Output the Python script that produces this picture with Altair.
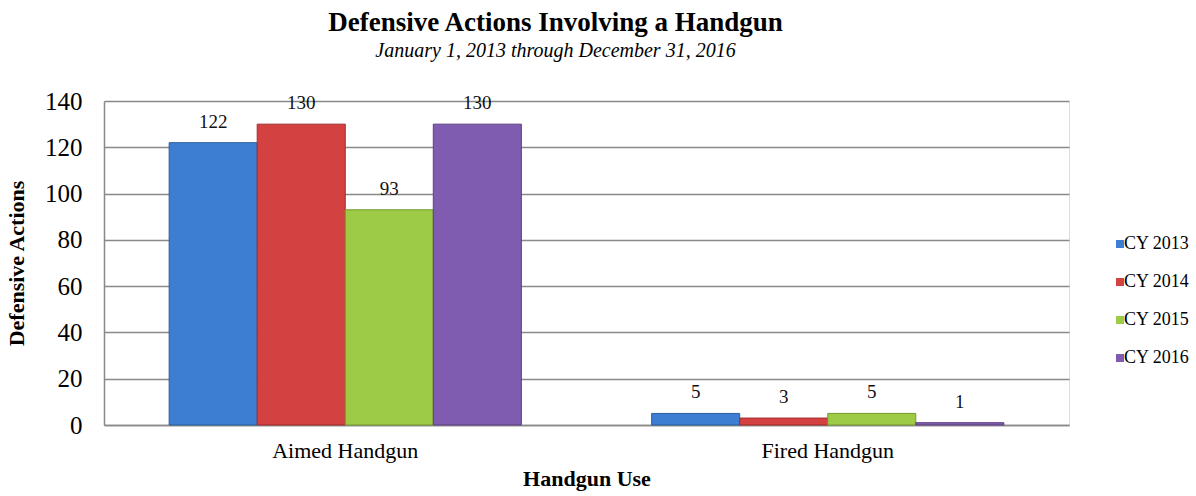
import altair as alt
import pandas as pd

categories = ["Aimed Handgun", "Fired Handgun"]
series = ["CY 2013", "CY 2014", "CY 2015", "CY 2016"]
cy2013 = [122, 5]
cy2014 = [130, 3]
cy2015 = [93, 5]
cy2016 = [130, 1]
y_ticks = [0, 20, 40, 60, 80, 100, 120, 140]
colors = ["#3D7ED2", "#D44141", "#9DCB45", "#7F5CAF"]
edge_colors = ["#2A5E9E", "#A12D2D", "#74992E", "#5C3F85"]

rows = []
for s, vals in zip(series, [cy2013, cy2014, cy2015, cy2016]):
    for c, v in zip(categories, vals):
        rows.append({"use": c, "year": s, "value": v})
df = pd.DataFrame(rows)

FONT = "Liberation Serif"
GRID = "#898989"

x = alt.X(
    "use:N", sort=categories,
    scale=alt.Scale(paddingInner=0, paddingOuter=0),
    axis=alt.Axis(
        title="Handgun Use", labelAngle=0, ticks=False, grid=False,
        domainColor=GRID, domainWidth=1.5,
        labelFont=FONT, labelFontSize=22, labelPadding=15, labelColor="#000",
        titleFont=FONT, titleFontSize=22, titleFontWeight="bold", titleColor="#000",
        titlePadding=7,
    ),
)
xo = alt.XOffset("year:N", sort=series, scale=alt.Scale(paddingInner=0, paddingOuter=0.74))
y = alt.Y(
    "value:Q",
    scale=alt.Scale(domain=[0, 140]),
    axis=alt.Axis(
        values=y_ticks, title="Defensive Actions", grid=True, gridColor=GRID, gridWidth=1.5,
        domainColor=GRID, domainWidth=1.5, ticks=False,
        labelFont=FONT, labelFontSize=25, labelPadding=22, labelColor="#000",
        titleFont=FONT, titleFontSize=22, titleFontWeight="bold", titleColor="#000",
        titleX=-88, titleY=162, titleAngle=270, titleAlign="center", titleBaseline="middle",
    ),
)
color = alt.Color(
    "year:N", sort=series,
    scale=alt.Scale(domain=series, range=colors),
    legend=alt.Legend(
        title=None, orient="none", legendX=1007, legendY=134, symbolType="square",
        symbolSize=64, symbolStrokeWidth=0, labelFont=FONT, labelFontSize=18,
        labelColor="#000", rowPadding=20, labelOffset={"expr": "-5"}, padding=0,
    ),
)
stroke = alt.Stroke("year:N", sort=series, scale=alt.Scale(domain=series, range=edge_colors), legend=None)

base = alt.Chart(df)
bars = base.mark_bar(strokeWidth=1).encode(x=x, xOffset=xo, y=y, color=color, stroke=stroke)
labels = base.mark_text(dy=-15, baseline="alphabetic", font=FONT, fontSize=19, color="#111").encode(
    x=x, xOffset=xo, y=y, text="value:Q"
)

chart = (
    alt.layer(bars, labels)
    .properties(
        width=965, height=324,
        autosize=alt.AutoSizeParams(type="none"),
        padding={"left": 104, "top": 101, "right": 127, "bottom": 71},
        title=alt.TitleParams(
            "Defensive Actions Involving a Handgun",
            subtitle="January 1, 2013 through December 31, 2016",
            font=FONT, fontSize=27, fontWeight="bold", color="#000",
            subtitleFont=FONT, subtitleFontSize=20, subtitleFontStyle="italic",
            subtitleColor="#000", subtitlePadding=4,
            anchor="middle", frame="group", dx=-31, offset=27,
        ),
    )
    .configure_view(strokeWidth=0)
    .configure(background="white")
)

chart.save("out.html", embed_options={"renderer": "svg", "actions": False})
